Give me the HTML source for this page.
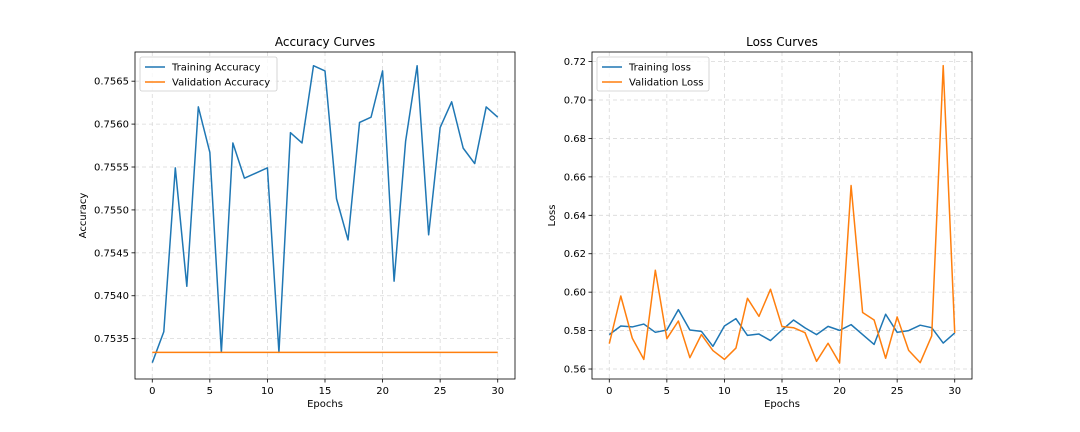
<!DOCTYPE html>
<html><head><meta charset="utf-8"><style>
html,body{margin:0;padding:0;background:#fff;}
svg{display:block;font-family:"DejaVu Sans","Liberation Sans",sans-serif;}
</style></head><body>
<svg id="fig" width="1080" height="432" viewBox="0 0 1080 432" xmlns="http://www.w3.org/2000/svg"></svg>
<script>
const epochs = Array.from({length:31},(_,i)=>i);
const trainAcc = [0.75322,0.75358,0.75549,0.75411,0.75620,0.75567,0.75334,0.75578,0.75537,0.75543,0.75549,0.75334,0.75590,0.75578,0.75668,0.75662,0.75513,0.75465,0.75602,0.75608,0.75662,0.75417,0.75580,0.75668,0.75471,0.75596,0.75626,0.75572,0.75554,0.75620,0.75608];
const valAcc = Array(31).fill(0.75334);
const trainLoss = [0.5779,0.5824,0.5819,0.5834,0.5791,0.5803,0.5909,0.5803,0.5796,0.5718,0.5824,0.5862,0.5775,0.5782,0.5748,0.5803,0.5855,0.5814,0.5779,0.5822,0.5801,0.5831,0.5779,0.5728,0.5885,0.5791,0.5800,0.5828,0.5815,0.5735,0.5788];
const valLoss = [0.5732,0.5980,0.5760,0.5650,0.6114,0.5758,0.5850,0.5659,0.5779,0.5696,0.5650,0.5709,0.5968,0.5874,0.6015,0.5821,0.5815,0.5789,0.5640,0.5734,0.5631,0.6555,0.5894,0.5855,0.5656,0.5871,0.5697,0.5633,0.5772,0.7179,0.5788];
const xTicks = [0,5,10,15,20,25,30];
const accTicks = [0.7535,0.7540,0.7545,0.7550,0.7555,0.7560,0.7565];
const lossTicks = [0.56,0.58,0.60,0.62,0.64,0.66,0.68,0.70,0.72];

const NS="http://www.w3.org/2000/svg";
const svg=document.getElementById('fig');
function el(tag,attrs,parent){const e=document.createElementNS(NS,tag);for(const k in attrs)e.setAttribute(k,attrs[k]);(parent||svg).appendChild(e);return e;}

function panel(cfg){
  const g=el('g',{});
  
  
  const {L,R,T,B,xmin,xmax,ymin,ymax}=cfg;
  const sx=v=>L+(v-xmin)/(xmax-xmin)*(R-L);
  const sy=v=>B-(v-ymin)/(ymax-ymin)*(B-T);
  // grid
  xTicks.forEach(t=>{
    const l=el('line',{x1:sx(t),x2:sx(t),y1:T,y2:B,stroke:'#d9d9d9','stroke-dasharray':'4,3','stroke-width':0.8},g);
    
    
    el('line',{x1:sx(t),x2:sx(t),y1:B,y2:B+3.5,stroke:'#000','stroke-width':0.8},g);
    const tx=el('text',{x:sx(t),y:B+15,'text-anchor':'middle','font-size':'10px',fill:'#000'},g);
    tx.textContent=t;
    
    
  });
  cfg.yTicks.forEach(t=>{
    const l=el('line',{x1:L,x2:R,y1:sy(t),y2:sy(t),stroke:'#d9d9d9','stroke-dasharray':'4,3','stroke-width':0.8},g);
    
    
    el('line',{x1:L-3.5,x2:L,y1:sy(t),y2:sy(t),stroke:'#000','stroke-width':0.8},g);
    const tx=el('text',{x:L-6,y:sy(t)+3.5,'text-anchor':'end','font-size':'10px',fill:'#000'},g);
    tx.textContent=t.toFixed(cfg.dec);
    
    
  });
  cfg.series.forEach(s=>{
    const p=el('polyline',{points:epochs.map((e,i)=>sx(e)+','+sy(s.data[i])).join(' '),fill:'none',stroke:s.color,'stroke-width':1.5,'stroke-linejoin':'round'},g);
    
    
  });
  el('rect',{x:L,y:T,width:R-L,height:B-T,fill:'none',stroke:'#000','stroke-width':0.8},g);
  const title=el('text',{x:(L+R)/2,y:T-6,'text-anchor':'middle','font-size':'12px',fill:'#000'},g);
  title.textContent=cfg.title;
  
  
  const xl=el('text',{x:(L+R)/2,y:B+28,'text-anchor':'middle','font-size':'10px',fill:'#000'},g);
  xl.textContent='Epochs';
  
  
  const yx=cfg.ylabelX, yy=(T+B)/2;
  const yl=el('text',{x:yx,y:yy,'text-anchor':'middle','font-size':'10px',fill:'#000',transform:`rotate(-90 ${yx} ${yy})`},g);
  yl.textContent=cfg.ylabel;
  
  
  // legend
  const lg=el('g',{},g);
  
  
  el('rect',{x:L+5,y:T+5,width:cfg.legW,height:34,rx:2,fill:'#fff','fill-opacity':0.8,stroke:'#ccc','stroke-width':0.8},lg);
  cfg.series.forEach((s,i)=>{
    const y=T+15+i*15;
    el('line',{x1:L+10,x2:L+30,y1:y,y2:y,stroke:s.color,'stroke-width':1.5},lg);
    const t=el('text',{x:L+37,y:y+3.5,'font-size':'10px',fill:'#000'},lg);
    t.textContent=s.label;
    
    
  });
}
panel({name:'accuracy-chart',L:135,R:515,T:52,B:379,xmin:-1.5,xmax:31.5,ymin:0.75303,ymax:0.75684,yTicks:accTicks,dec:4,title:'Accuracy Curves',ylabel:'Accuracy',ylabelX:86,legW:137,
  series:[{id:'training-accuracy-line',label:'Training Accuracy',color:'#1f77b4',data:trainAcc},{id:'validation-accuracy-line',label:'Validation Accuracy',color:'#ff7f0e',data:valAcc}]});
panel({name:'loss-chart',L:592,R:972,T:52,B:379,xmin:-1.5,xmax:31.5,ymin:0.5548,ymax:0.7250,yTicks:lossTicks,dec:2,title:'Loss Curves',ylabel:'Loss',ylabelX:555,legW:112,
  series:[{id:'training-loss-line',label:'Training loss',color:'#1f77b4',data:trainLoss},{id:'validation-loss-line',label:'Validation Loss',color:'#ff7f0e',data:valLoss}]});
</script>
</body></html>
